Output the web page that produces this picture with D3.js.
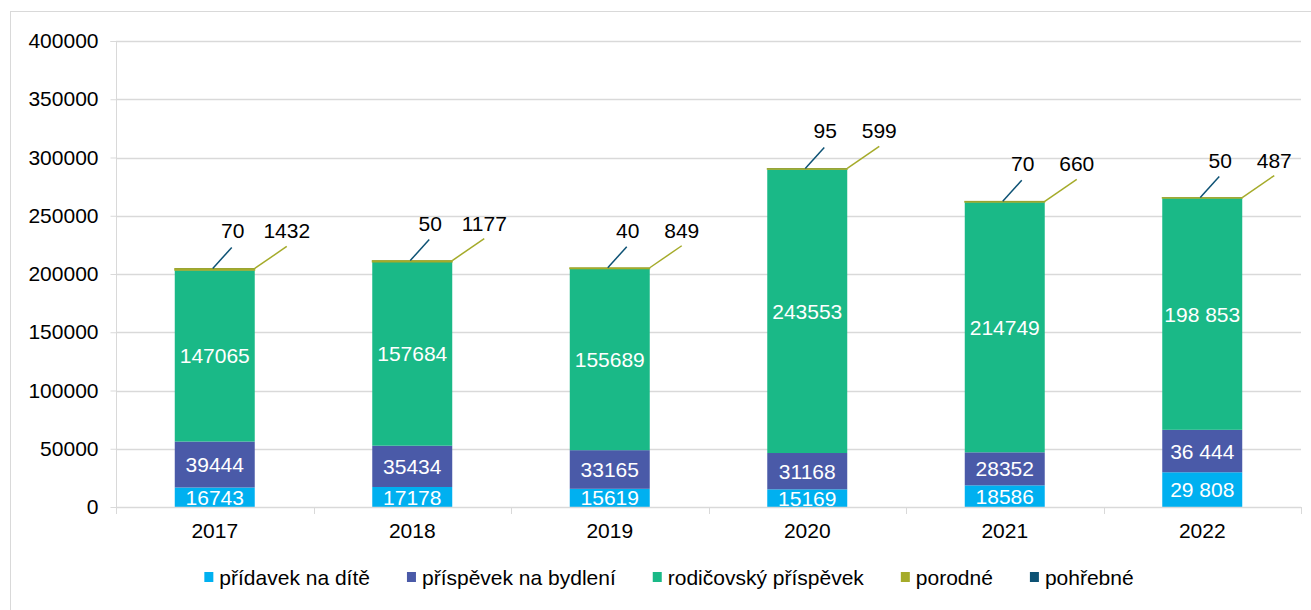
<!DOCTYPE html>
<html><head><meta charset="utf-8">
<script src="https://cdn.jsdelivr.net/npm/d3@7"></script>
<style>body{margin:0;background:#fff}svg{display:block;font-family:"Liberation Sans",Arial,sans-serif}</style>
</head><body>
<svg id="c" width="1311" height="610"></svg>
<script>
const years = ["2017","2018","2019","2020","2021","2022"];
const seriesNames = ["přídavek na dítě","příspěvek na bydlení","rodičovský příspěvek","porodné","pohřebné"];
const pridavek = [16743,17178,15619,15169,18586,29808];
const prispevek = [39444,35434,33165,31168,28352,36444];
const rodicovsky = [147065,157684,155689,243553,214749,198853];
const porodne = [1432,1177,849,599,660,487];
const pohrebne = [70,50,40,95,70,50];
const spaceSeparated = [false,false,false,false,false,true];
const yTicks = [0,50000,100000,150000,200000,250000,300000,350000,400000];
const colors = ["#00B0F0","#4A5AA8","#1AB987","#A5AB2A","#0D5274"];
const FS = 21;

const svg = d3.select("#c");
const x = d3.scaleBand().domain(years).range([116,1301]).paddingInner(0.595).paddingOuter(0.2975);
const y = d3.scaleLinear().domain([0,400000]).range([507,41]);

svg.append("rect").attr("x",10.5).attr("y",11.5).attr("width",1310).attr("height",610).attr("fill","#fff").attr("stroke","#d9d9d9");

// grid
svg.append("g").selectAll("line").data(yTicks.slice(1)).join("line")
 .attr("x1",116).attr("x2",1301).attr("y1",d=>Math.round(y(d))+0.5).attr("y2",d=>Math.round(y(d))+0.5)
 .attr("stroke","#d9d9d9").attr("stroke-width",1.3);

const rows = years.map((yr,i)=>({year:yr,i,s0:pridavek[i],s1:prispevek[i],s2:rodicovsky[i],s3:porodne[i],s4:pohrebne[i]}));
const stack = d3.stack().keys(["s0","s1","s2","s3","s4"])(rows);

svg.append("g").selectAll("g").data(stack).join("g").attr("fill",(d,i)=>colors[i])
 .attr("stroke",(d,i)=>i===3?colors[3]:"none").attr("stroke-width",1)
 .selectAll("rect").data(d=>d).join("rect")
 .attr("x",d=>x(d.data.year)).attr("width",x.bandwidth())
 .attr("y",d=>y(d[1])).attr("height",d=>y(d[0])-y(d[1]));

// axes
const ya = d3.axisLeft(y).tickValues(yTicks).tickSize(6).tickPadding(10).tickFormat(d3.format("d"));
const yg = svg.append("g").attr("transform","translate(116.5,0)").call(ya);
yg.select(".domain").attr("stroke","#d9d9d9").attr("d","M-6,41.5H0V507.5");
yg.selectAll(".tick line").attr("stroke","#d9d9d9");
yg.selectAll(".tick text").attr("font-size",FS).attr("fill","#000").attr("font-family","Liberation Sans, Arial, sans-serif").attr("dx",-2);

const bounds = years.map((d,i)=>116+i*x.step()).concat([1301]);
const xg = svg.append("g");
xg.append("line").attr("x1",116).attr("x2",1301).attr("y1",507.5).attr("y2",507.5).attr("stroke","#d9d9d9").attr("stroke-width",1.3);
xg.selectAll("line.t").data(bounds).join("line").attr("class","t")
 .attr("x1",d=>Math.round(d)+0.5).attr("x2",d=>Math.round(d)+0.5).attr("y1",507).attr("y2",514).attr("stroke","#d9d9d9");
xg.selectAll("text").data(years).join("text")
 .attr("x",d=>x(d)+x.bandwidth()/2).attr("y",538).attr("text-anchor","middle").attr("font-size",FS).text(d=>d);

function fmt(v,i){ return spaceSeparated[i] ? d3.format(",")(v).replace(/,/g," ") : String(v); }

// inside labels
const inner = [pridavek,prispevek,rodicovsky];
inner.forEach((arr,k)=>{
  svg.append("g").selectAll("text").data(rows).join("text")
   .attr("x",d=>x(d.year)+x.bandwidth()/2)
   .attr("y",d=>{const s=stack[k][d.i]; return (y(s[0])+y(s[1]))/2;})
   .attr("dy","0.36em").attr("text-anchor","middle").attr("font-size",FS).attr("fill","#fff")
   .text(d=>fmt(arr[d.i],d.i));
});

// outer labels with leader lines
rows.forEach(d=>{
  const top = y(stack[4][d.i][1]);
  const cx = x(d.year)+x.bandwidth()/2;
  const rx = x(d.year)+x.bandwidth();
  svg.append("line").attr("x1",cx-2).attr("y1",top).attr("x2",cx+17).attr("y2",top-21).attr("stroke",colors[4]).attr("stroke-width",1.5);
  svg.append("text").attr("x",cx+18).attr("y",top-30).attr("text-anchor","middle").attr("font-size",FS).text(fmt(pohrebne[d.i],d.i));
  svg.append("line").attr("x1",rx).attr("y1",top).attr("x2",rx+32).attr("y2",top-22).attr("stroke",colors[3]).attr("stroke-width",1.5);
  svg.append("text").attr("x",rx+32).attr("y",top-30).attr("text-anchor","middle").attr("font-size",FS).text(fmt(porodne[d.i],d.i));
});

// legend
const lg = svg.append("g");
let items = seriesNames.map((n,i)=>{
  const g = lg.append("g");
  g.append("rect").attr("width",9).attr("height",10).attr("y",-6).attr("fill",colors[i]);
  const t = g.append("text").attr("x",15).attr("y",0).attr("dy","0.35em").attr("font-size",FS).text(n);
  return {g,w:15+t.node().getComputedTextLength()};
});
const gap=37;
const total = d3.sum(items,d=>d.w)+gap*(items.length-1);
let cx0 = 669 - total/2;
items.forEach(it=>{ it.g.attr("transform",`translate(${cx0},578)`); cx0+=it.w+gap; });
</script>
</body></html>
